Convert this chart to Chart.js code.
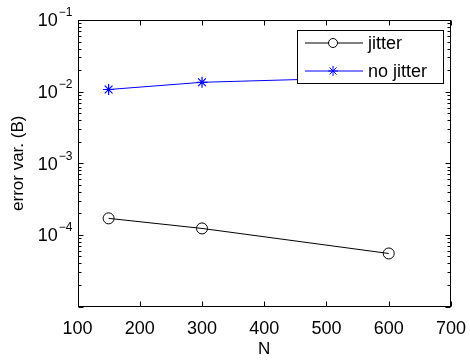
<!DOCTYPE html>
<html>
<head>
<meta charset="utf-8">
<script src="https://cdn.jsdelivr.net/npm/chart.js@4.4.0/dist/chart.umd.min.js"></script>
<style>
  html, body { margin: 0; padding: 0; background: #fff; }
  canvas { display: block; }
</style>
</head>
<body>
<canvas id="myChart" width="470" height="360"></canvas>
<script>
// N values and measured error variance
const sizes = [150, 300, 600];
const jitter = [1.7e-4, 1.23e-4, 5.5e-5];
const noJitter = [1.07e-2, 1.35e-2, 1.6e-2];
const seriesNames = ['jitter', 'no jitter'];
const xTicks = [100, 200, 300, 400, 500, 600, 700];
const yDecades = [-5, -4, -3, -2, -1];
const yLabelled = [-4, -3, -2, -1];

const FONT = '"Liberation Sans", Arial, Helvetica, sans-serif';

function pts(ys) {
  return sizes.map((x, i) => ({x: x, y: ys[i]}));
}

// matlab style box: frame, inward ticks, 10^k labels, legend
const boxAxes = {
  id: 'boxAxes',
  afterDraw(chart) {
    const ctx = chart.ctx;
    const a = chart.chartArea;
    const xs = chart.scales.x, ys = chart.scales.y;
    const L = Math.round(a.left) + 0.5, R = Math.round(a.right) - 0.5;
    const T = Math.round(a.top) + 0.5, B = Math.round(a.bottom) - 0.5;
    ctx.save();
    ctx.strokeStyle = '#000';
    ctx.lineWidth = 1;
    ctx.beginPath();
    // x ticks top and bottom
    xTicks.forEach(v => {
      const px = Math.round(xs.getPixelForValue(v)) + 0.5;
      ctx.moveTo(px, B); ctx.lineTo(px, B - 5);
      ctx.moveTo(px, T); ctx.lineTo(px, T + 5);
    });
    // y ticks left and right, minor ticks in between
    yDecades.forEach(e => {
      for (let m = 1; m <= 9; m++) {
        if (e === -1 && m > 1) break;
        const py = Math.round(ys.getPixelForValue(m * Math.pow(10, e))) + 0.5;
        const len = m === 1 ? 5 : 3;
        ctx.moveTo(L, py); ctx.lineTo(L + len, py);
        ctx.moveTo(R, py); ctx.lineTo(R - len, py);
      }
    });
    ctx.stroke();
    ctx.strokeRect(L, T, R - L, B - T);

    // y labels with superscript exponent
    ctx.fillStyle = '#000';
    ctx.textBaseline = 'middle';
    ctx.textAlign = 'right';
    yLabelled.forEach(e => {
      const py = ys.getPixelForValue(Math.pow(10, e));
      const xe = a.left - 5;
      ctx.font = '12px ' + FONT;
      const ex = '\u2212' + Math.abs(e);
      const w = ctx.measureText(ex).width;
      ctx.fillText(ex, xe, py - 7);
      ctx.font = '18px ' + FONT;
      ctx.fillText('10', xe - w - 1, py + 1.5);
    });

    // legend
    const lx = 297.5, ly = 30.5, lw = 146, lh = 53;
    ctx.fillStyle = '#fff';
    ctx.fillRect(lx, ly, lw, lh);
    ctx.strokeStyle = '#000';
    ctx.strokeRect(lx, ly, lw, lh);
    chart.data.datasets.forEach((ds, i) => {
      const y = 43 + i * 28;
      ctx.strokeStyle = ds.borderColor;
      ctx.lineWidth = 1;
      ctx.beginPath();
      ctx.moveTo(305, y); ctx.lineTo(363, y);
      ctx.stroke();
      ctx.beginPath();
      if (ds.pointStyle === 'circle') {
        ctx.fillStyle = '#fff';
        ctx.arc(333, y, 4.5, 0, Math.PI * 2);
        ctx.fill();
      } else {
        const r = 5, d = r * Math.SQRT1_2;
        ctx.moveTo(333, y - r); ctx.lineTo(333, y + r);
        ctx.moveTo(333 - r, y); ctx.lineTo(333 + r, y);
        ctx.moveTo(333 - d, y - d); ctx.lineTo(333 + d, y + d);
        ctx.moveTo(333 - d, y + d); ctx.lineTo(333 + d, y - d);
      }
      ctx.stroke();
      ctx.fillStyle = '#000';
      ctx.textAlign = 'left';
      ctx.font = '18px ' + FONT;
      ctx.fillText(ds.label, 368, y + 1);
    });
    ctx.restore();
  }
};

new Chart(document.getElementById('myChart').getContext('2d'), {
  type: 'line',
  data: {
    datasets: [
      {
        label: seriesNames[0],
        data: pts(jitter),
        borderColor: '#000',
        borderWidth: 1,
        pointStyle: 'circle',
        pointRadius: 5.5,
        pointBorderWidth: 1,
        pointBorderColor: '#000',
        pointBackgroundColor: 'rgba(0,0,0,0)',
        fill: false
      },
      {
        label: seriesNames[1],
        data: pts(noJitter),
        borderColor: '#0000ff',
        borderWidth: 1,
        pointStyle: 'star',
        pointRadius: 5.5,
        pointBorderWidth: 1.2,
        pointBorderColor: '#0000ff',
        fill: false
      }
    ]
  },
  options: {
    responsive: false,
    animation: false,
    devicePixelRatio: 1,
    layout: { padding: { top: 20, right: 17, left: 0, bottom: 0 } },
    plugins: { legend: { display: false }, tooltip: { enabled: false } },
    scales: {
      x: {
        type: 'linear',
        min: 100, max: 700,
        afterBuildTicks(scale) { scale.ticks = xTicks.map(v => ({value: v})); },
        afterFit(scale) { scale.height = 53.5; },
        grid: { display: false },
        border: { display: false },
        ticks: { color: '#000', padding: 4, font: { family: FONT, size: 18 } },
        title: { display: true, text: 'N', color: '#000', padding: { top: 0, bottom: 0 }, font: { family: FONT, size: 17 } }
      },
      y: {
        type: 'logarithmic',
        min: 1e-5, max: 1e-1,
        afterFit(scale) { scale.width = 77.5; },
        grid: { display: false },
        border: { display: false },
        ticks: { display: false },
        title: { display: true, text: 'error var. (B)', color: '#000', padding: { top: 8, bottom: 0 }, font: { family: FONT, size: 17 } }
      }
    }
  },
  plugins: [boxAxes]
});
</script>
</body>
</html>
